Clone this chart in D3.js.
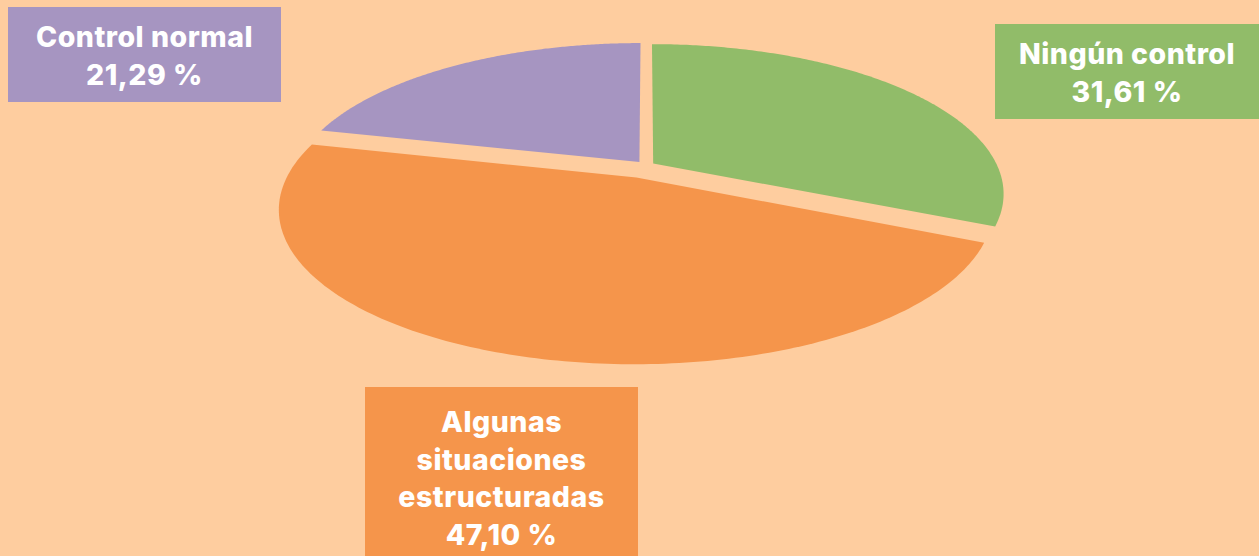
<!DOCTYPE html>
<html lang="es">
<head>
<meta charset="UTF-8">
<title>Tipo de control</title>
<script src="https://d3js.org/d3.v7.min.js"></script>
<style>
  html, body { margin: 0; padding: 0; background: #fecd9f; }
  svg { display: block; }
  .lbl { font-family: Inter, 'Noto Sans', sans-serif; font-weight: 800; font-size: 28.5px; letter-spacing: 0.5px; fill: #fff; }
</style>
</head>
<body>
<svg id="chart" width="1259" height="556"></svg>
<script>
  // data
  const categories = ["Ningún control", "Algunas situaciones estructuradas", "Control normal"];
  const values = [31.61, 47.10, 21.29];
  const valueLabels = ["31,61 %", "47,10 %", "21,29 %"];
  const nameLines = [["Ningún control"], ["Algunas", "situaciones", "estructuradas"], ["Control normal"]];
  const colors = ["#91bc69", "#f5954b", "#a695c1"];

  // how far each slice is pulled out (fraction of radius)
  const explode = [0.025, 0.086, 0.031];

  // label boxes (layout)
  const boxes = [
    { x: 995, y: 24, w: 264, h: 95, base: 64 },
    { x: 365, y: 387, w: 273, h: 175, base: 432 },
    { x: 8, y: 7, w: 273, h: 95, base: 47 }
  ];
  const lineGap = 37.5;

  const svg = d3.select("#chart");
  svg.append("rect").attr("width", 1259).attr("height", 556).attr("fill", "#fecd9f");

  // tilted disc seen in perspective
  const view = { cx: 646, cy: 165.5, A: 344, B: 144, k: 0.2 };
  function proj(u, v) {
    const w = 1 + view.k * v;
    return [view.cx + view.A * u / w, view.cy - view.B * v / w];
  }

  const arcs = d3.pie().sort(null).value(d => d)(values);
  const line = d3.line();

  arcs.forEach((s, i) => {
    const mid = (s.startAngle + s.endAngle) / 2;
    const ou = explode[i] * Math.sin(mid);
    const ov = explode[i] * Math.cos(mid);
    const steps = 180;
    const pts = [proj(ou, ov)];
    d3.range(steps + 1).forEach(j => {
      const a = s.startAngle + (s.endAngle - s.startAngle) * j / steps;
      pts.push(proj(ou + Math.sin(a), ov + Math.cos(a)));
    });
    svg.append("path")
      .attr("d", line(pts) + "Z")
      .attr("fill", colors[i]);
  });

  // labels
  boxes.forEach((b, i) => {
    const g = svg.append("g");
    g.append("rect")
      .attr("x", b.x).attr("y", b.y)
      .attr("width", b.w).attr("height", b.h)
      .attr("fill", colors[i]);
    const lines = nameLines[i].concat([valueLabels[i]]);
    lines.forEach((t, j) => {
      g.append("text")
        .attr("class", "lbl")
        .attr("x", b.x + b.w / 2)
        .attr("y", b.base + j * lineGap)
        .attr("text-anchor", "middle")
        .text(t);
    });
  });
</script>
</body>
</html>
